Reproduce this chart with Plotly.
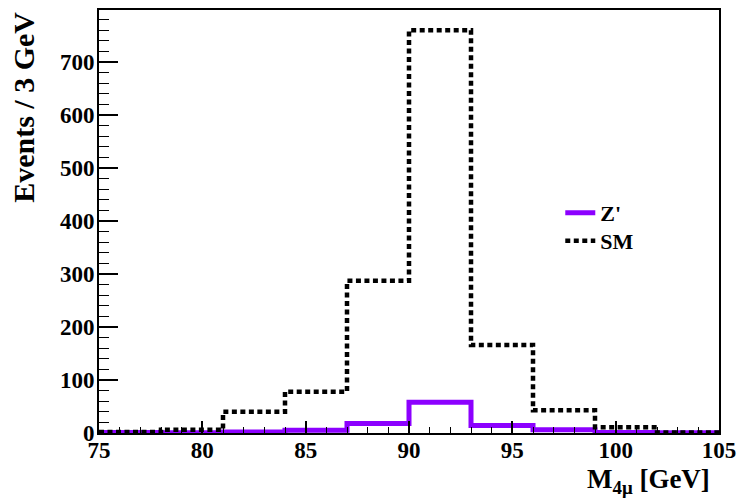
import plotly.graph_objects as go

# 3 GeV bins from 75 to 105 GeV
bin_edges = [75, 78, 81, 84, 87, 90, 93, 96, 99, 102, 105]
sm_counts = [2, 6, 40, 78, 287, 760, 166, 43, 11, 1]
zprime_counts = [1, 0.5, 2, 5, 18, 58, 14, 6, 1, 0.3]

x_ticks = [75, 80, 85, 90, 95, 100, 105]
y_ticks = [0, 100, 200, 300, 400, 500, 600, 700]

SERIF = "Liberation Serif, Times New Roman, serif"


def step(values):
    # repeat the last bin content so the final bin is drawn to its upper edge
    return list(values) + [values[-1]]


fig = go.Figure()
fig.add_trace(go.Scatter(
    x=bin_edges, y=step(zprime_counts), mode="lines", name="Z'",
    line=dict(color="#8c00ff", width=5, shape="hv"), legend="legend",
))
fig.add_trace(go.Scatter(
    x=bin_edges, y=step(sm_counts), mode="lines", name="SM",
    line=dict(color="black", width=4.5, shape="hv", dash="5px,3.5px"),
    legend="legend2",
))

fig.update_xaxes(
    range=[75, 105], tickvals=x_ticks, ticktext=[str(v) for v in x_ticks],
    ticks="inside", ticklen=12, tickwidth=1.5, tickcolor="black",
    minor=dict(ticks="inside", ticklen=6, dtick=1, tickcolor="black", tickwidth=1.2),
    showline=True, linecolor="black", linewidth=2, mirror=True,
    showgrid=False, zeroline=False, ticklabelstandoff=-5, automargin=False,
    tickfont=dict(family=SERIF, size=23, color="black", weight="bold"),
)
fig.update_yaxes(
    range=[0, 798], tickvals=y_ticks, ticktext=[str(v) for v in y_ticks],
    ticks="inside", ticklen=19, tickwidth=1.5, tickcolor="black",
    minor=dict(ticks="inside", ticklen=10, dtick=20, tickcolor="black", tickwidth=1.2),
    showline=True, linecolor="black", linewidth=2, mirror=True,
    showgrid=False, zeroline=False, ticklabelstandoff=-2, automargin=False,
    tickfont=dict(family=SERIF, size=23, color="black", weight="bold"),
)

fig.add_annotation(
    text="M<sub>4μ</sub> [GeV]", xref="paper", yref="paper",
    x=0.988, y=-0.114, xanchor="right", yanchor="middle", showarrow=False,
    font=dict(family=SERIF, size=27, color="black", weight="bold"),
)
fig.add_annotation(
    text="Events / 3 GeV", xref="paper", yref="paper", textangle=-90,
    x=-0.122, y=1.0, xanchor="center", yanchor="top", showarrow=False,
    font=dict(family=SERIF, size=30, color="black", weight="bold"),
)

legend_style = dict(
    xanchor="left", yanchor="middle",
    bgcolor="rgba(0,0,0,0)", borderwidth=0,
    font=dict(family=SERIF, size=22, color="black", weight="bold"),
    itemwidth=30,
)

fig.update_layout(
    width=737, height=502,
    margin=dict(l=99, r=18, t=10, b=69, autoexpand=False),
    paper_bgcolor="white", plot_bgcolor="white",
    showlegend=True,
    legend=dict(x=0.744, y=0.520, **legend_style),
    legend2=dict(x=0.744, y=0.454, **legend_style),
)

fig.write_html("out.html")
